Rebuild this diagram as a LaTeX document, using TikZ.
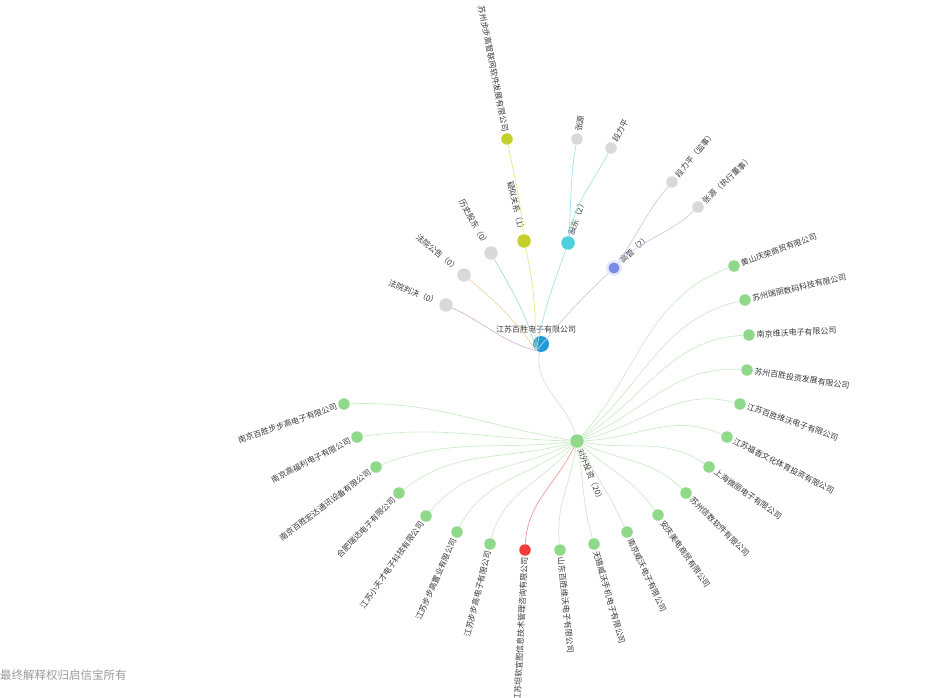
\documentclass[tikz,border=0pt]{standalone}
\usepackage{fontspec}
\newfontfamily\cjk{Noto Sans CJK SC}
\usepackage{xcolor}
\usetikzlibrary{positioning}

\definecolor{rootblue}{HTML}{1F9CD8}
\definecolor{suspgreen}{HTML}{C5D12A}
\definecolor{holdercyan}{HTML}{4DCFE0}
\definecolor{mgrblue}{HTML}{7A8CE8}
\definecolor{grayfill}{HTML}{D9D9D9}
\definecolor{invgreen}{HTML}{8ED98A}
\definecolor{hotred}{HTML}{F23B3B}
\definecolor{edgepink}{HTML}{D8B4DE}
\definecolor{edgeorange}{HTML}{F3D3A6}
\definecolor{edgeteal}{HTML}{A5D9DC}
\definecolor{edgeyellow}{HTML}{E3E78C}
\definecolor{edgecyan}{HTML}{A6E0EE}
\definecolor{edgelav}{HTML}{C8CBF2}
\definecolor{edgegreen}{HTML}{CDEBC9}
\definecolor{edgered}{HTML}{EE9A9A}
\definecolor{labelgray}{HTML}{3A3A3A}
\definecolor{footgray}{HTML}{9A9A9A}

\begin{document}
\begin{tikzpicture}[
    x=1pt, y=-1pt,
    rootdot/.style={circle, inner sep=0pt, minimum size=16pt, fill=rootblue},
    catdot/.style={circle, inner sep=0pt, minimum size=13.5pt},
    leafdot/.style={circle, inner sep=0pt, minimum size=11.5pt},
    invdot/.style={leafdot, fill=invgreen},
    txt/.style={inner sep=1.5pt, font=\cjk\fontsize{8pt}{9pt}\selectfont, text=labelgray},
    rlbl/.style={txt, anchor=west},
    llbl/.style={txt, anchor=east},
    link/.style={line width=0.7pt},
    foot/.style={inner sep=0pt, font=\cjk\fontsize{11.5pt}{12pt}\selectfont, text=footgray}
]
\useasboundingbox (0,0) rectangle (926,698);

% centre company
\node[rootdot] (root) at (541,344) {};
\node[txt, above=1pt of root, xshift=-5pt] (root-l) {江苏百胜电子有限公司};

% categories
\node[catdot, fill=grayfill] (judge) at (446,305) {};
\node[catdot, fill=grayfill] (notice) at (464,275) {};
\node[catdot, fill=grayfill] (hist) at (491,253) {};
\node[catdot, fill=suspgreen] (susp) at (524,241) {};
\node[catdot, fill=holdercyan] (holder) at (568,243) {};
\node[catdot, fill=mgrblue, draw=mgrblue!18, line width=2.5pt] (mgr) at (614,268) {};
\node[catdot, fill=invgreen] (invest) at (577,441) {};

\node[llbl, rotate=-21] (judge-l) at (judge.159) {法院判决（0）};
\node[llbl, rotate=-40] (notice-l) at (notice.140) {法院公告（0）};
\node[llbl, rotate=-61] (hist-l) at (hist.119) {历史股东（0）};
\node[llbl, rotate=-77] (susp-l) at (susp.103) {疑似关系（1）};
\node[rlbl, rotate=71] (holder-l) at (holder.71) {股东（2）};
\node[rlbl, rotate=43] (mgr-l) at (mgr.43) {高管（2）};
\node[rlbl, rotate=-68] (invest-l) at (invest.-68) {对外投资（20）};

% people and related company
\node[leafdot, fill=suspgreen] (bbg) at (507,139) {};
\node[leafdot, fill=grayfill] (zy) at (577,139) {};
\node[leafdot, fill=grayfill] (dlp) at (611,148) {};
\node[leafdot, fill=grayfill] (dlpjs) at (672,182) {};
\node[leafdot, fill=grayfill] (zyds) at (698,207) {};

\node[llbl, rotate=-79] (bbg-l) at (bbg.101) {苏州步步高智联网软件发展有限公司};
\node[rlbl, rotate=80] (zy-l) at (zy.80) {张源};
\node[rlbl, rotate=62] (dlp-l) at (dlp.62) {段力平};
\node[rlbl, rotate=50] (dlpjs-l) at (dlpjs.50) {段力平（监事）};
\node[rlbl, rotate=43] (zyds-l) at (zyds.43) {张源（执行董事）};

% outward investments
\node[invdot] (inv1) at (734,266) {};
\node[invdot] (inv2) at (745,300) {};
\node[invdot] (inv3) at (749,335) {};
\node[invdot] (inv4) at (747,370) {};
\node[invdot] (inv5) at (740,404) {};
\node[invdot] (inv6) at (727,437) {};
\node[invdot] (inv7) at (709,467) {};
\node[invdot] (inv8) at (686,493) {};
\node[invdot] (inv9) at (658,515) {};
\node[invdot] (inv10) at (627,532) {};
\node[invdot] (inv11) at (594,544) {};
\node[invdot] (inv12) at (560,550) {};
\node[invdot, fill=hotred] (inv13) at (525,550) {};
\node[invdot] (inv14) at (490,544) {};
\node[invdot] (inv15) at (457,532) {};
\node[invdot] (inv16) at (426,516) {};
\node[invdot] (inv17) at (399,493) {};
\node[invdot] (inv18) at (376,467) {};
\node[invdot] (inv19) at (357,437) {};
\node[invdot] (inv20) at (344,404) {};

\node[rlbl, rotate=20] (inv1-l) at (inv1.20) {黄山庆荣商贸有限公司};
\node[rlbl, rotate=13] (inv2-l) at (inv2.13) {苏州瑞丽数码科技有限公司};
\node[rlbl, rotate=3] (inv3-l) at (inv3.3) {南京维沃电子有限公司};
\node[rlbl, rotate=-9] (inv4-l) at (inv4.-9) {苏州百胜投资发展有限公司};
\node[rlbl, rotate=-19] (inv5-l) at (inv5.-19) {江苏百胜维沃电子有限公司};
\node[rlbl, rotate=-27] (inv6-l) at (inv6.-27) {江苏福香文化体育投资有限公司};
\node[rlbl, rotate=-35] (inv7-l) at (inv7.-35) {上海微丽电子有限公司};
\node[rlbl, rotate=-45] (inv8-l) at (inv8.-45) {苏州信数软件有限公司};
\node[rlbl, rotate=-55] (inv9-l) at (inv9.-55) {安庆美电商贸有限公司};
\node[rlbl, rotate=-65] (inv10-l) at (inv10.-65) {南京威沃电子有限公司};
\node[rlbl, rotate=-74] (inv11-l) at (inv11.-74) {无锡威沃手机电子有限公司};
\node[rlbl, rotate=-84] (inv12-l) at (inv12.-84) {山东百胜维沃电子有限公司};
\node[llbl, rotate=87] (inv13-l) at (inv13.267) {江苏坦软宜图信息技术管理咨询有限公司};
\node[llbl, rotate=76] (inv14-l) at (inv14.256) {江苏步步高电子有限公司};
\node[llbl, rotate=66] (inv15-l) at (inv15.246) {江苏步步高置业有限公司};
\node[llbl, rotate=55] (inv16-l) at (inv16.235) {江苏小天才电子科技有限公司};
\node[llbl, rotate=46] (inv17-l) at (inv17.226) {合肥瑞达电子有限公司};
\node[llbl, rotate=37] (inv18-l) at (inv18.217) {南京百胜宏达通讯设备有限公司};
\node[llbl, rotate=27] (inv19-l) at (inv19.207) {南京高福利电子有限公司};
\node[llbl, rotate=19] (inv20-l) at (inv20.199) {南京百胜步步高电子有限公司};

% links
\draw[link, edgepink] (root.235) to[out=165, in=-25] (judge);
\draw[link, edgeorange] (root.235) to[out=125, in=-40] (notice);
\draw[link, edgeteal] (root.235) to[out=105, in=-61] (hist);
\draw[link, edgeyellow] (root.235) to[out=92, in=-77] (susp);
\draw[link, edgecyan] (root.235) to[out=80, in=251] (holder);
\draw[link, edgelav] (root.235) to[out=50, in=223] (mgr);
\draw[link, edgegreen] (root) to[out=-100, in=105] (invest);

\draw[link, edgeyellow] (susp) to[out=95, in=281] (bbg);
\draw[link, edgecyan] (holder) to[out=85, in=260] (zy);
\draw[link, edgecyan] (holder) to[out=80, in=242] (dlp);
\draw[link, edgelav] (mgr) to[out=55, in=230] (dlpjs);
\draw[link, edgelav] (mgr) to[out=45, in=223] (zyds);

\draw[link, edgegreen] (invest) to[out=48, in=200] (inv1);
\draw[link, edgegreen] (invest) to[out=40, in=193] (inv2);
\draw[link, edgegreen] (invest) to[out=32, in=183] (inv3);
\draw[link, edgegreen] (invest) to[out=23, in=176] (inv4);
\draw[link, edgegreen] (invest) to[out=13, in=165] (inv5);
\draw[link, edgegreen] (invest) to[out=2, in=155] (inv6);
\draw[link, edgegreen] (invest) to[out=-11, in=145] (inv7);
\draw[link, edgegreen] (invest) to[out=-25, in=135] (inv8);
\draw[link, edgegreen] (invest) to[out=-42, in=125] (inv9);
\draw[link, edgegreen] (invest) to[out=-61, in=115] (inv10);
\draw[link, edgegreen] (invest) to[out=-81, in=106] (inv11);
\draw[link, edgegreen] (invest) to[out=-99, in=96] (inv12);
\draw[link, edgered] (invest) to[out=-116, in=87] (inv13);
\draw[link, edgegreen] (invest) to[out=-130, in=76] (inv14);
\draw[link, edgegreen] (invest) to[out=-143, in=63] (inv15);
\draw[link, edgegreen] (invest) to[out=-154, in=50] (inv16);
\draw[link, edgegreen] (invest) to[out=-164, in=38] (inv17);
\draw[link, edgegreen] (invest) to[out=-173, in=22] (inv18);
\draw[link, edgegreen] (invest) to[out=179, in=8] (inv19);
\draw[link, edgegreen] (invest) to[out=171, in=2] (inv20);

\node[foot, anchor=west] (footer) at (0,675) {最终解释权归启信宝所有};
\end{tikzpicture}
\end{document}
